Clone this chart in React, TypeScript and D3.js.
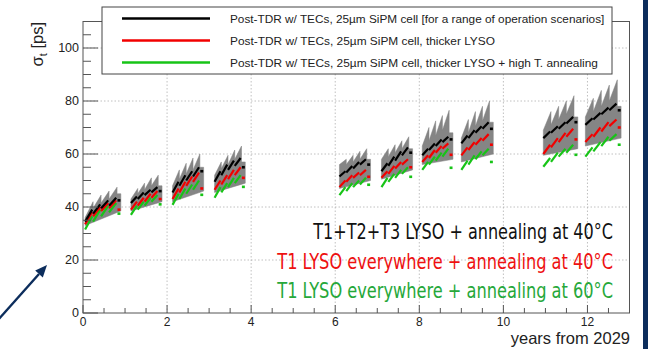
import React, { useLayoutEffect, useRef, useState } from "react";
import * as d3 from "d3";

// ---------- data ----------
const clusterStart = [0.05, 1.14, 2.13, 3.13, 6.1, 7.1, 8.07, 9.0, 10.95, 11.95];
const clusterEnd = [0.9, 1.88, 2.87, 3.86, 6.84, 7.84, 8.8, 9.76, 11.77, 12.8];

const blackSegs = [
  [[34.5, 39], [37.5, 41], [39.5, 42.5], [40.5, 43.5]],
  [[41.5, 44], [43, 45.5], [44.5, 46.5], [45.5, 47.5]],
  [[45.5, 49.5], [48, 52], [50, 53.5], [51.5, 55]],
  [[49.5, 53.5], [52, 56], [54, 57.5], [55.5, 58.5]],
  [[51.5, 53.5], [53, 55.5], [54.5, 57], [56, 58]],
  [[53.5, 56.5], [55.5, 59], [57.5, 61], [59.5, 62.5]],
  [[59.5, 62], [61.5, 64], [63, 65.5], [64.5, 66.5]],
  [[64, 67], [66, 69], [68, 70.5], [69.5, 72]],
  [[66, 68.5], [68, 70.5], [69.5, 72], [71.5, 74]],
  [[71, 73.5], [73, 75.5], [75, 77.5], [76.5, 79]],
];
const blackPost = [42.5, 46, 53.5, 55, 56, 60.5, 65.5, 69.5, 72, 76.5];

const redSegs = [
  [[33.5, 38], [36.5, 40], [38.5, 41.5], [39.5, 42.5]],
  [[39, 42], [40.5, 43.5], [42, 45], [43.5, 46]],
  [[43, 47], [45.5, 49.5], [48, 51.5], [49.5, 53]],
  [[46.5, 50], [48.5, 52], [50.5, 54], [52, 55]],
  [[47.5, 50], [49.5, 52], [51, 53], [52, 54]],
  [[51, 53.5], [52.5, 55.5], [54.5, 57], [56, 58]],
  [[57, 59.5], [58.5, 61.5], [60.5, 63], [62, 64]],
  [[59.5, 62.5], [61.5, 64.5], [63.5, 66], [65, 67.5]],
  [[60, 63.5], [62.5, 66], [64.5, 68], [66.5, 69.5]],
  [[64.5, 67.5], [66.5, 70], [68.5, 72], [70.5, 73]],
];
const redPost = [39, 43, 47, 51, 51.4, 55, 59.7, 63.5, 65.5, 70];

const greenSegs = [
  [[31.5, 36.5], [34.5, 39], [36.5, 40.5], [38, 41.5]],
  [[37, 40.5], [39, 42], [40.5, 43.5], [42, 44.5]],
  [[40.8, 45], [43, 47], [45, 48.5], [46.5, 50]],
  [[43.5, 47.5], [45.5, 49], [47.5, 51], [49, 52]],
  [[44.5, 47.5], [46, 49], [47.5, 50], [48.5, 51]],
  [[47.5, 51], [49.5, 52.5], [51, 54], [52.5, 55]],
  [[54, 57], [56, 59], [57.5, 60.5], [59, 62]],
  [[54, 57.5], [56, 59.5], [58, 61], [59.5, 62]],
  [[55.2, 58.5], [57, 60.5], [59, 62], [60.5, 63.5]],
  [[59, 62.5], [61, 64.5], [63, 66.5], [65, 67.5]],
];
const greenPost = [37.5, 41, 44.6, 47.6, 48.4, 51.4, 54.8, 57, 59.7, 63.5];

const grayBottom = [
  [33, 38.5], [38.5, 42], [42, 46], [45.5, 49], [47, 50],
  [50.5, 54], [56, 58], [57, 60], [59.5, 62], [63, 66],
];
const grayTopStart = [
  [36, 39.5, 41.5, 43], [43, 45, 46.5, 48], [48, 50.5, 52.5, 54], [52, 54.5, 56, 58],
  [56, 56, 57, 58], [58, 59, 60.5, 62], [63, 65, 67, 69], [66, 68, 70.5, 72.5],
  [69, 71, 73, 75], [74, 76, 78, 80],
];
const grayPeak = [
  [42, 44.5, 46, 47.5], [47, 49, 51, 52], [54, 56.5, 58.5, 60], [57, 59.5, 61.5, 63],
  [58, 59.5, 61, 62], [62, 63.5, 65, 66.5], [70, 72.5, 74.5, 76.5], [73, 76, 78, 80],
  [76, 78, 80, 82], [81, 84, 86, 88],
];
const grayEnd = [45, 48, 55, 57, 58, 62, 68, 72, 74, 78];

const xTickLabels = [0, 2, 4, 6, 8, 10, 12];
const yTickLabels = [0, 20, 40, 60, 80, 100];

const legendLabels = [
  "Post-TDR w/ TECs, 25\u00b5m SiPM cell [for a range of operation scenarios]",
  "Post-TDR w/ TECs, 25\u00b5m SiPM cell, thicker LYSO",
  "Post-TDR w/ TECs, 25\u00b5m SiPM cell, thicker LYSO + high T. annealing",
];
const annotations = [
  "T1+T2+T3 LYSO + annealing at 40\u00b0C",
  "T1 LYSO everywhere + annealing at 40\u00b0C",
  "T1 LYSO everywhere + annealing at 60\u00b0C",
];

// ---------- styling ----------
const LINE_COLORS = ["#000000", "#f20000", "#17c417"];
const TEXT_COLORS = ["#111111", "#ee1111", "#26a83a"];
const NAVY = "#0c2d5c";
const W = 648, H = 349;
const L = 83, R = 629.5, T = 21.5, B = 313;
const ANN_WIDTHS = [300, 336, 336];
const LEG_WIDTHS = [374, 265, 368];

export default function App() {
  const x = d3.scaleLinear().domain([0, 13]).range([L, R]);
  const y = d3.scaleLinear().domain([0, 110]).range([B, T]);

  const annRefs = useRef<(SVGTextElement | null)[]>([]);
  const legRefs = useRef<(SVGTextElement | null)[]>([]);
  const [annScale, setAnnScale] = useState<number[]>([1, 1, 1]);
  const [legScale, setLegScale] = useState<number[]>([1, 1, 1]);

  useLayoutEffect(() => {
    setAnnScale(annRefs.current.map((el, i) => (el ? ANN_WIDTHS[i] / el.getComputedTextLength() : 1)));
    setLegScale(legRefs.current.map((el, i) => (el ? LEG_WIDTHS[i] / el.getComputedTextLength() : 1)));
  }, []);

  const segX = (c: number, k: number) => {
    const x0 = clusterStart[c];
    const lineEnd = clusterEnd[c] - 0.09;
    const w = (lineEnd - x0) / 4;
    return [x0 + k * w, x0 + (k + 1) * w];
  };

  const grayPaths = clusterStart.map((_, c) => {
    const pts: [number, number][] = [];
    for (let k = 0; k < 4; k++) {
      const [xs, xe] = segX(c, k);
      pts.push([x(xs), y(grayTopStart[c][k])]);
      pts.push([x(xe), y(grayPeak[c][k])]);
    }
    const [, lastE] = segX(c, 3);
    pts.push([x(lastE), y(grayEnd[c])]);
    pts.push([x(clusterEnd[c]), y(grayEnd[c])]);
    pts.push([x(clusterEnd[c]), y(grayBottom[c][1])]);
    pts.push([x(clusterStart[c]), y(grayBottom[c][0])]);
    return d3.line()(pts) + "Z";
  });

  const lineGen = d3.line<[number, number]>().x((d) => x(d[0])).y((d) => y(d[1]));

  const seriesSegs = [blackSegs, redSegs, greenSegs];
  const seriesPost = [blackPost, redPost, greenPost];

  const xMinor = d3.range(0, 13.01, 0.5);
  const yMinor = d3.range(0, 110.01, 5);
  const sans = "'Liberation Sans', Arial, Helvetica, sans-serif";
  const narrow = "'Liberation Sans Narrow', 'DejaVu Sans Condensed', Lato, sans-serif";

  const drawOrder = [2, 1, 0];

  return (
    <svg width={W} height={H} style={{ position: "absolute", left: 0, top: 0, background: "#fff" }}>
      <rect x={0} y={0} width={W} height={H} fill="#fff" />
      {/* grid */}
      {xTickLabels.filter((v) => v > 0).map((v) => (
        <line key={"gx" + v} x1={x(v)} x2={x(v)} y1={T} y2={B} stroke="#b0b0b0" strokeWidth={0.8} strokeDasharray="1.5,2" />
      ))}
      {yTickLabels.filter((v) => v > 0).map((v) => (
        <line key={"gy" + v} x1={L} x2={R} y1={y(v)} y2={y(v)} stroke="#b0b0b0" strokeWidth={0.8} strokeDasharray="1.5,2" />
      ))}

      {/* gray bands */}
      {grayPaths.map((p, i) => (
        <path key={"g" + i} d={p} fill="#858585" stroke="#808080" strokeWidth={0.5} />
      ))}

      {/* series */}
      {drawOrder.map((s) => (
        <g key={"s" + s} stroke={LINE_COLORS[s]} strokeWidth={2.2} fill="none">
          {seriesSegs[s].map((cl, c) =>
            cl.map((seg, k) => {
              const [xs, xe] = segX(c, k);
              return <path key={c + "-" + k} d={lineGen([[xs, seg[0]], [xe - 0.02, seg[1]]]) || ""} />;
            })
          )}
          {seriesPost[s].map((v, c) => (
            <path key={"p" + c} d={lineGen([[clusterEnd[c] - 0.08, v], [clusterEnd[c] - 0.01, v]]) || ""} strokeWidth={2.6} />
          ))}
        </g>
      ))}

      {/* frame */}
      <rect x={L} y={T} width={R - L} height={B - T} fill="none" stroke="#555" strokeWidth={1} />

      {/* x ticks */}
      {xMinor.map((v) => {
        const major = Math.abs(v / 2 - Math.round(v / 2)) < 1e-6;
        return <line key={"xt" + v} x1={x(v)} x2={x(v)} y1={B} y2={B - (major ? 8 : 5)} stroke="#555" strokeWidth={1} />;
      })}
      {xTickLabels.map((v) => (
        <text key={"xl" + v} x={x(v)} y={326} textAnchor="middle" fontSize={12} fontFamily={sans} fill="#222">
          {v}
        </text>
      ))}
      {/* y ticks */}
      {yMinor.map((v) => {
        const major = v % 20 === 0;
        return <line key={"yt" + v} x1={L} x2={L + (major ? 15 : 8)} y1={y(v)} y2={y(v)} stroke="#555" strokeWidth={1} />;
      })}
      {yTickLabels.map((v) => (
        <text key={"yl" + v} x={79} y={y(v) + 4.3} textAnchor="end" fontSize={12.5} fontFamily={sans} fill="#222">
          {v}
        </text>
      ))}

      {/* axis titles */}
      <text transform="translate(43,22) rotate(-90)" textAnchor="end" fontSize={16.5} fontFamily={sans} fill="#222">
        {"\u03c3"}
        <tspan fontSize={11} dy={4}>t</tspan>
        <tspan dy={-4}> [ps]</tspan>
      </text>
      <text x={630} y={344} textAnchor="end" fontSize={16.5} fontFamily={sans} fill="#222">
        years from 2029
      </text>

      {/* legend */}
      <rect x={102} y={7} width={510} height={67} fill="#fff" stroke="#444" strokeWidth={1} />
      {legendLabels.map((t, i) => {
        const ly = 18.5 + i * 22;
        return (
          <g key={"lg" + i}>
            <line x1={122} x2={210} y1={ly} y2={ly} stroke={LINE_COLORS[i]} strokeWidth={2.5} />
            <g transform={`translate(230,${ly + 4}) scale(${legScale[i]},1)`}>
              <text ref={(el) => { legRefs.current[i] = el; }} x={0} y={0} fontSize={11.2} fontFamily={sans} fill="#222">
                {t}
              </text>
            </g>
          </g>
        );
      })}

      {/* annotations */}
      {annotations.map((t, i) => (
        <g key={"an" + i} transform={`translate(613,${239 + i * 29.5}) scale(${annScale[i]},1)`}>
          <text ref={(el) => { annRefs.current[i] = el; }} x={0} y={0} textAnchor="end" fontSize={21} fontFamily={narrow} fill={TEXT_COLORS[i]}>
            {t}
          </text>
        </g>
      ))}

      {/* arrow */}
      <line x1={-2} y1={320} x2={39} y2={274} stroke={NAVY} strokeWidth={2.4} />
      <polygon points="47,265 42.8,277.5 35.2,270.5" fill={NAVY} />

      {/* right navy border */}
      <rect x={643} y={0} width={5} height={H} fill={NAVY} />
    </svg>
  );
}
